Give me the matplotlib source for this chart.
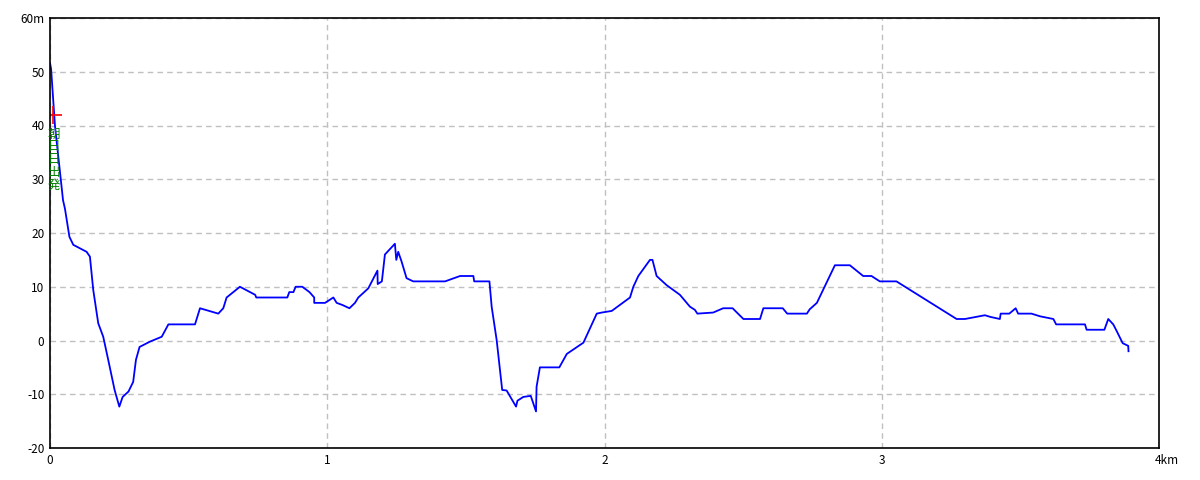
import matplotlib.pyplot as plt
import matplotlib.transforms as mtransforms

# distance (km) and elevation (m)
dist = [0.000, 0.004, 0.018, 0.047, 0.054, 0.070, 0.084, 0.132, 0.144, 0.156,
        0.174, 0.192, 0.210, 0.233, 0.250, 0.262, 0.283, 0.300, 0.310, 0.323,
        0.361, 0.403, 0.427, 0.523, 0.541, 0.607, 0.625, 0.637, 0.685, 0.740,
        0.744, 0.856, 0.863, 0.878, 0.886, 0.910, 0.936, 0.953, 0.953, 0.992,
        1.022, 1.034, 1.055, 1.080, 1.100, 1.112, 1.148, 1.181, 1.182, 1.197,
        1.208, 1.244, 1.249, 1.256, 1.268, 1.286, 1.310, 1.425, 1.479, 1.527,
        1.530, 1.585, 1.593, 1.611, 1.623, 1.631, 1.647, 1.681, 1.686, 1.707,
        1.734, 1.753, 1.755, 1.767, 1.837, 1.864, 1.924, 1.972, 1.990, 2.026,
        2.092, 2.104, 2.122, 2.164, 2.173, 2.188, 2.224, 2.272, 2.308, 2.326,
        2.335, 2.392, 2.428, 2.462, 2.501, 2.561, 2.573, 2.643, 2.659, 2.730,
        2.740, 2.766, 2.831, 2.885, 2.933, 2.963, 2.993, 3.053, 3.270, 3.300,
        3.372, 3.391, 3.426, 3.429, 3.460, 3.483, 3.492, 3.540, 3.571, 3.619,
        3.629, 3.733, 3.739, 3.803, 3.817, 3.835, 3.847, 3.869, 3.889, 3.890]
elev = [51.6, 50.5, 39.9, 26.1, 24.5, 19.3, 17.8, 16.5, 15.6, 9.4,
        3.2, 0.7, -3.6, -9.2, -12.3, -10.5, -9.5, -7.7, -3.6, -1.2,
        -0.2, 0.7, 3.0, 3.0, 6.0, 5.0, 6.0, 8.0, 10.0, 8.5,
        8.0, 8.0, 9.0, 9.0, 10.0, 10.0, 9.0, 8.0, 7.0, 7.0,
        8.0, 7.0, 6.6, 6.0, 7.0, 8.0, 9.7, 13.0, 10.5, 11.0,
        16.0, 18.0, 15.0, 16.5, 14.7, 11.6, 11.0, 11.0, 12.0, 12.0,
        11.0, 11.0, 6.3, 0.1, -5.5, -9.2, -9.3, -12.3, -11.2, -10.5,
        -10.3, -13.2, -8.6, -5.0, -5.0, -2.5, -0.4, 5.0, 5.2, 5.5,
        8.0, 10.0, 12.0, 15.0, 15.0, 12.0, 10.3, 8.5, 6.3, 5.7,
        5.0, 5.2, 6.0, 6.0, 4.0, 4.0, 6.0, 6.0, 5.0, 5.0,
        5.8, 7.0, 14.0, 14.0, 12.0, 12.0, 11.0, 11.0, 4.0, 4.0,
        4.7, 4.4, 4.0, 5.0, 5.0, 6.0, 5.0, 5.0, 4.5, 4.0,
        3.0, 3.0, 2.0, 2.0, 4.0, 3.0, 1.8, -0.5, -1.0, -2.0]

start_pt = (0.010, 42.0)
start_label = "朝日日出発"

x_ticks = [0, 1, 2, 3, 4]
x_labels = ["0", "1", "2", "3", "4km"]
y_ticks = [-20, -10, 0, 10, 20, 30, 40, 50, 60]
y_labels = ["-20", "-10", "0", "10", "20", "30", "40", "50", "60m"]

plt.rcParams['font.family'] = ['Noto Sans CJK JP', 'DejaVu Sans']

fig = plt.figure(figsize=(12, 4.8), dpi=100)
ax = fig.add_axes([50 / 1200, 32 / 480, 1109 / 1200, 430 / 480])

ax.plot(dist, elev, color='#0000ff', linewidth=1.3)
ax.plot(start_pt[0], start_pt[1], '+', color='red', markersize=13, mew=1.2)
ax.text(0.015, 39.6, "\n".join(start_label), color='#008000', fontsize=9,
        ha='center', va='top', linespacing=0.98)

ax.set_xlim(0, 4)
ax.set_ylim(-20, 60)
ax.set_xticks(x_ticks)
ax.set_xticklabels(x_labels)
ax.set_yticks(y_ticks)
ax.set_yticklabels(y_labels)
ax.tick_params(length=0, labelsize=8.5, pad=4)
ax.grid(True, color='#c0c0c0', linestyle=(0, (4, 3)), linewidth=1)

for s in ax.spines.values():
    s.set_color('black')
    s.set_linewidth(1.2)

# the last x label starts at the tick rather than being centred on it
last = ax.get_xticklabels()[-1]
last.set_horizontalalignment('left')
last.set_transform(last.get_transform() + mtransforms.ScaledTranslation(-4 / 100, 0, fig.dpi_scale_trans))

fig.savefig('out.png', dpi=100)
